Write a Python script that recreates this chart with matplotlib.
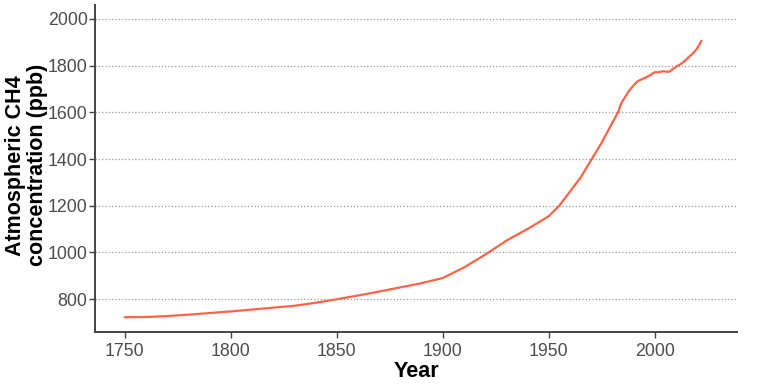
import matplotlib
matplotlib.use('Agg')
import matplotlib.pyplot as plt

# atmospheric methane
years = [1750, 1760, 1770, 1780, 1790, 1800, 1810, 1820, 1830, 1840,
         1850, 1860, 1870, 1880, 1890, 1900, 1910, 1920, 1930, 1940,
         1945, 1950, 1955, 1960, 1965, 1970, 1975, 1980, 1983, 1984,
         1986, 1988, 1990, 1992, 1994, 1996, 1998, 2000, 2002, 2004,
         2006, 2007, 2008, 2010, 2012, 2014, 2016, 2018, 2020, 2021, 2022]
ch4 = [722, 723, 727, 733, 740, 747, 755, 763, 771, 784,
       799, 815, 832, 850, 868, 890, 935, 990, 1050, 1100,
       1127, 1155, 1200, 1260, 1320, 1395, 1470, 1555, 1605, 1635,
       1665, 1693, 1715, 1733, 1742, 1750, 1760, 1772, 1772, 1776,
       1774, 1774, 1782, 1795, 1805, 1818, 1836, 1852, 1873, 1888, 1906]

x_ticks = [1750, 1800, 1850, 1900, 1950, 2000]
y_ticks = [800, 1000, 1200, 1400, 1600, 1800, 2000]

plt.rcParams['font.family'] = ['Liberation Sans', 'DejaVu Sans']

fig = plt.figure(figsize=(7.68, 3.84), dpi=100)
ax = fig.add_axes([0.124, 0.135, 0.836, 0.852])

ax.plot(years, ch4, color='#FF6347', lw=1.6)

ax.set_xlim(1736, 2039)
ax.set_ylim(658, 2060)
ax.set_xticks(x_ticks)
ax.set_yticks(y_ticks)

ax.yaxis.grid(True, linestyle=':', color='#999999', lw=0.9)
ax.set_axisbelow(True)

for s in ['top', 'right']:
    ax.spines[s].set_visible(False)
for s in ['left', 'bottom']:
    ax.spines[s].set_color('#444444')
    ax.spines[s].set_linewidth(1.4)

ax.tick_params(axis='both', labelsize=12.8, labelcolor='#4D4D4D',
               color='#444444', length=4, width=1)
ax.tick_params(axis='y', pad=1.5)
ax.tick_params(axis='x', pad=3.5)

ax.set_xlabel('Year', fontsize=15.5, fontweight='bold', labelpad=1)
ax.set_ylabel('Atmospheric CH4\nconcentration (ppb)', fontsize=15.5,
              fontweight='bold', linespacing=1.1)
ax.yaxis.set_label_coords(-0.073, 0.51)

fig.savefig('out.png', dpi=100)
